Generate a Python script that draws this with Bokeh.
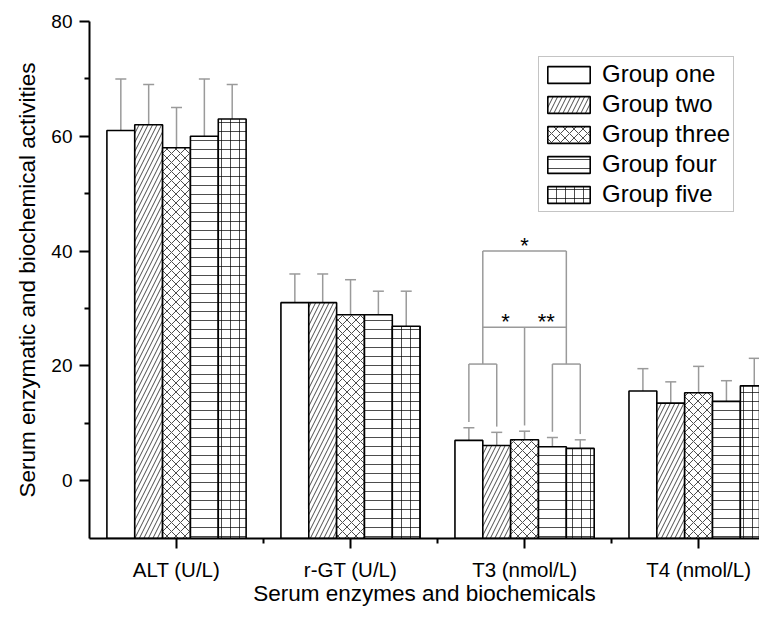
from bokeh.plotting import figure
from bokeh.models import FixedTicker, Whisker, ColumnDataSource, Legend, LegendItem, TeeHead
from bokeh.embed import file_html
from bokeh.resources import INLINE

categories = ["ALT (U/L)", "r-GT (U/L)", "T3 (nmol/L)", "T4 (nmol/L)"]
groups = ["Group one", "Group two", "Group three", "Group four", "Group five"]
# values per group across categories
g1 = [61.0, 31.0, 7.0, 15.6]
g2 = [62.0, 31.0, 6.1, 13.5]
g3 = [58.0, 28.9, 7.1, 15.3]
g4 = [60.0, 28.9, 5.9, 13.8]
g5 = [63.0, 26.9, 5.6, 16.5]
e1 = [9.0, 5.0, 2.2, 3.9]
e2 = [7.0, 5.0, 2.3, 3.7]
e3 = [7.0, 6.1, 1.5, 4.6]
e4 = [10.0, 4.1, 1.6, 3.6]
e5 = [6.0, 6.1, 1.5, 4.8]
values = [g1, g2, g3, g4, g5]
errors = [e1, e2, e3, e4, e5]
hatches = [" ", "/", "x", "-", "+"]

# significance brackets on T3
bracket_cat = 3
pair_level = 20.3
mid_level = 26.7
top_level = 40.0
sig_gap = 1.0

FONT = "Liberation Sans"
BW = 0.16
Y0 = -10.1

p = figure(width=759, height=609, output_backend="svg", toolbar_location=None,
           x_range=(0.5, 4.35), y_range=(Y0, 80),
           min_border_left=89, min_border_right=0, min_border_top=21, min_border_bottom=71)
p.outline_line_color = None
p.xgrid.visible = False
p.ygrid.visible = False

items = []
for gi in range(5):
    xs = [ci + 1 + (gi - 2) * BW for ci in range(len(categories))]
    tops = values[gi]
    ups = [v + e for v, e in zip(values[gi], errors[gi])]
    src = ColumnDataSource(dict(x=xs, top=tops, up=ups))
    w = Whisker(base="x", lower="top", upper="up", source=src, dimension="height",
                line_color="#9a9a9a", line_width=1.5,
                upper_head=TeeHead(size=11, line_color="#9a9a9a", line_width=1.5),
                lower_head=None, level="underlay")
    p.add_layout(w)
    r = p.vbar(x="x", top="top", bottom=Y0, width=BW, source=src,
               fill_color="white", line_color="black", line_width=1.6,
               hatch_pattern=hatches[gi], hatch_color="black", hatch_weight=0.7,
               hatch_scale=9)
    items.append(LegendItem(label=groups[gi], renderers=[r]))

# brackets
c = bracket_cat
xl1, xl2 = c - 2 * BW, c - BW
xr1, xr2 = c + BW, c + 2 * BW
xm = c
xlm, xrm = (xl1 + xl2) / 2, (xr1 + xr2) / 2
def up_of(gi):
    return values[gi][c - 1] + errors[gi][c - 1] + sig_gap
x0s = [xl1, xl2, xr1, xr2, xm, xl1, xr1, xlm, xrm, xlm, xlm]
y0s = [up_of(0), up_of(1), up_of(3), up_of(4), up_of(2), pair_level, pair_level, pair_level, pair_level, mid_level, top_level]
x1s = [xl1, xl2, xr1, xr2, xm, xl2, xr2, xlm, xrm, xrm, xrm]
y1s = [pair_level, pair_level, pair_level, pair_level, mid_level, pair_level, pair_level, top_level, top_level, mid_level, top_level]
p.segment(x0=x0s, y0=y0s, x1=x1s, y1=y1s, line_color="#9a9a9a", line_width=1.5)

p.text(x=[xm, (xlm + xm) / 2 + 0.01, (xm + xrm) / 2 + 0.005],
       y=[top_level + 1.0, mid_level + 1.0, mid_level + 1.0],
       text=["*", "*", "**"], text_align="center", text_baseline="alphabetic",
       text_font={"value": FONT}, text_font_size="22px", text_color="black")

# axes
for ax in (p.xaxis[0], p.yaxis[0]):
    ax.axis_line_width = 2
    ax.axis_line_color = "black"
    ax.major_tick_line_width = 2
    ax.minor_tick_line_width = 2
    ax.major_tick_out = 10
    ax.major_tick_in = 0
    ax.minor_tick_out = 5
    ax.minor_tick_in = 0
    ax.major_label_text_font = FONT
    ax.major_label_text_color = "black"
    ax.axis_label_text_font = FONT
    ax.axis_label_text_font_size = "22.5px"
    ax.axis_label_text_font_style = "normal"
    ax.axis_label_text_color = "black"

p.xaxis.ticker = FixedTicker(ticks=[1, 2, 3, 4], minor_ticks=[1.5, 2.5, 3.5])
p.xaxis.major_label_overrides = {i + 1: c_ for i, c_ in enumerate(categories)}
p.xaxis.axis_label = "Serum enzymes and biochemicals"
p.xaxis.major_label_text_font_size = "20.5px"
p.xaxis.major_label_standoff = 9
p.xaxis.axis_label_standoff = -3

p.yaxis.ticker = FixedTicker(ticks=[0, 20, 40, 60, 80], minor_ticks=[10, 30, 50, 70])
p.yaxis.axis_label = "Serum enzymatic and biochemical activities"
p.yaxis.major_label_text_font_size = "19px"
p.yaxis.major_label_standoff = 7
p.yaxis.axis_label_standoff = 8

legend = Legend(items=items, location=(449, 326), orientation="vertical",
                glyph_width=53, glyph_height=21, label_standoff=7,
                label_text_font=FONT, label_text_font_size="24px", label_text_color="black",
                border_line_color="#8a8a8a", border_line_width=1,
                padding=3, spacing=2, margin=0, background_fill_alpha=1)
p.add_layout(legend)

open("out.html", "w").write(file_html(p, INLINE))
